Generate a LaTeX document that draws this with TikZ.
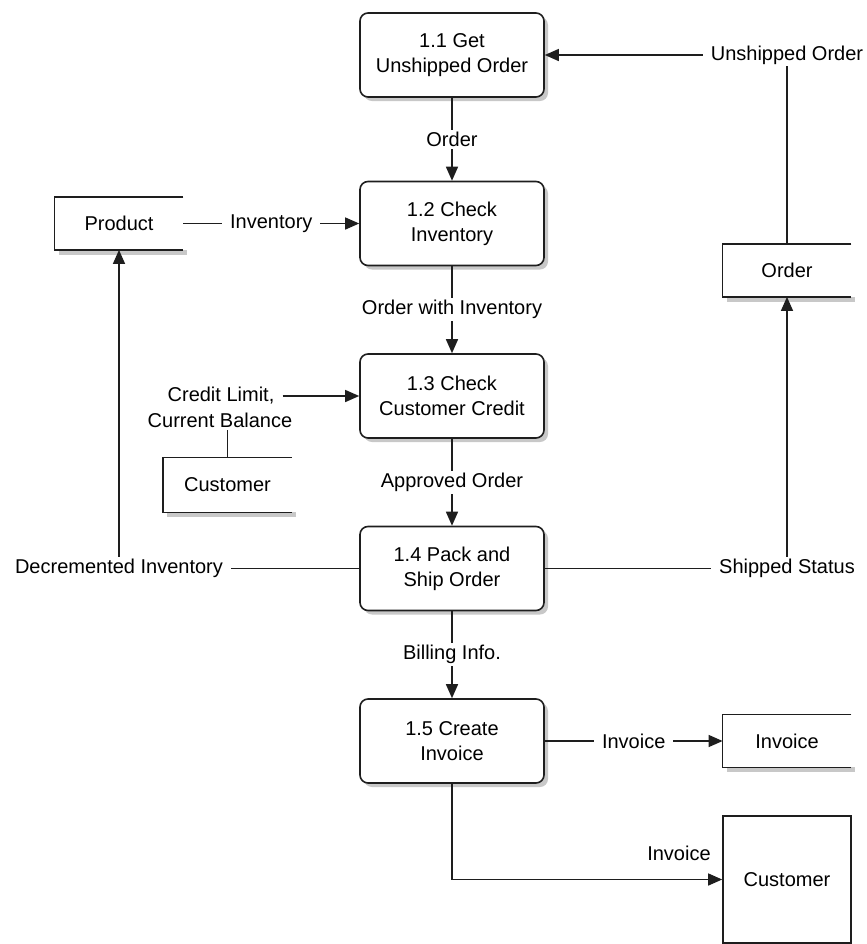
\documentclass[tikz,border=0pt]{standalone}
\usepackage{fontspec}
\setmainfont{Liberation Sans}
\usetikzlibrary{arrows.meta, shadows}
\definecolor{dfdline}{HTML}{1E1E1E}
\definecolor{dfdshade}{HTML}{C8C8C8}
\tikzset{
  proc/.style={rectangle, rounded corners=4pt, draw=dfdline, line width=0.8pt, fill=white,
               align=center, minimum width=92pt, minimum height=42pt, inner sep=2pt,
               drop shadow={shadow xshift=2pt, shadow yshift=-2pt, fill=dfdshade, opacity=1}},
  store/.style={rectangle, minimum width=64pt, minimum height=26pt, inner sep=2pt},
  entity/.style={rectangle, draw=dfdline, line width=0.8pt, minimum width=64pt, minimum height=63.5pt},
  flow/.style={-{Triangle[length=7pt, width=6pt]}, line width=0.7pt, draw=dfdline},
  dataline/.style={line width=0.7pt, draw=dfdline},
  lbl/.style={fill=white, inner xsep=4pt, inner ysep=1pt, align=center},
}

\begin{document}
\begin{tikzpicture}[x=0.5pt, y=-0.5pt, font=\fontsize{10}{12.5}\selectfont]
  \useasboundingbox (0,0) rectangle (867,944);
  \foreach \i/\nome/\y in {1/{1.1 Get\\Unshipped Order}/55, 2/{1.2 Check\\Inventory}/223.5,
                           3/{1.3 Check\\Customer Credit}/396, 4/{1.4 Pack and\\Ship Order}/568.5,
                           5/{1.5 Create\\Invoice}/741}{
    \node[proc] (p\i) at (452,\y) {\nome};
  }
  \node[store] (prod) at (119,223.5) {Product};
  \node[store, minimum height=27pt] (cust) at (227.5,485) {Customer};
  \node[store] (ord) at (787,270.5) {Order};
  \node[store] (inv) at (787,741) {Invoice};
  \node[entity] (cent) at (787,879.5) {Customer};
  \foreach \s in {prod,cust,ord,inv}{
    \fill[dfdshade] ([xshift=2pt]\s.south west) rectangle ([xshift=2pt,yshift=-2.5pt]\s.south east);
    \draw[dataline, line width=0.8pt] (\s.north east) -- (\s.north west) -- (\s.south west) -- (\s.south east);
  }
  \foreach \a/\b/\txt in {1/2/Order, 2/3/Order with Inventory, 3/4/Approved Order, 4/5/Billing Info.}{
    \draw[flow] (p\a) -- node[lbl]{\txt} (p\b);
  }
  \node[lbl] (cl1) at (221,396) {Credit Limit,};
  \node[lbl] (cl2) at (220,420) {Current Balance};
  \draw[flow] (cl1) -- (p3.west);
  \draw[dataline] (cust.north) -- (cust.north |- cl2.south);
  \draw[flow] (prod.east) -- node[lbl]{Inventory} (p2.west);
  \draw[flow] (ord.north) |- node[lbl]{Unshipped Order} (p1.east);
  \draw[flow] (p4.west) -| node[lbl]{Decremented Inventory} (prod.south);
  \draw[flow] (p4.east) -| node[lbl]{Shipped Status} (ord.south);
  \draw[flow] (p5.east) -- node[lbl]{Invoice} (inv.west);
  \draw[flow] (p5.south) |- node[lbl, pos=0.92, above=8pt]{Invoice} (cent.west);
\end{tikzpicture}
\end{document}
